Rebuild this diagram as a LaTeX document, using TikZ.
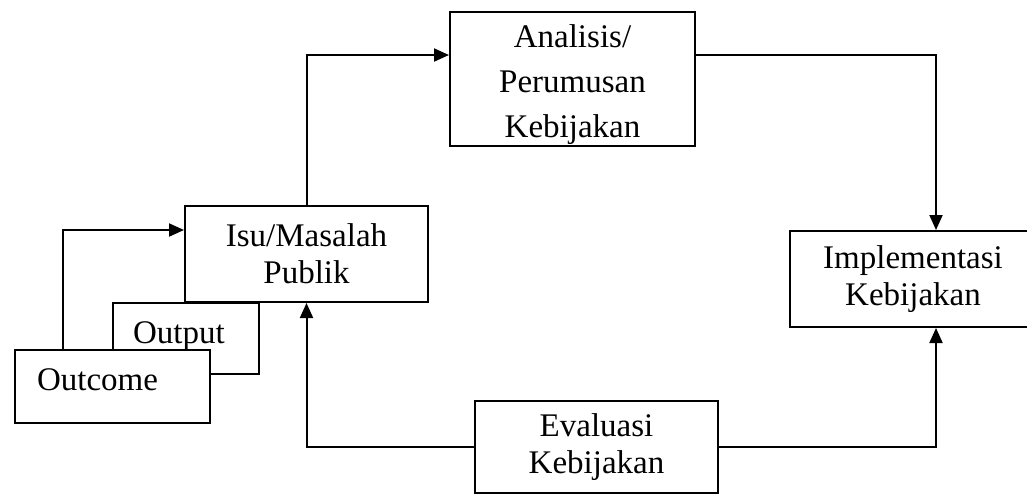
\documentclass[tikz,border=0pt]{standalone}
\usepackage{fontspec}
\setmainfont{Liberation Serif}
\usetikzlibrary{arrows.meta,calc}

\tikzset{
  kotak/.style={draw, line width=1pt, fill=white, align=center, inner sep=0pt,
    font=\fontsize{16.5}{18.5}\selectfont},
  kotakkiri/.style={kotak, align=left, text height=12pt},
  panah/.style={line width=1pt, -{Triangle[length=7.5pt,width=6.5pt]}}
}

\begin{document}
\begin{tikzpicture}[x=0.5pt,y=-0.5pt]
    \useasboundingbox (0,0) rectangle (1027,495);

    % Titik bantu untuk jalur panah
    \coordinate (atas) at (0,55);
    \coordinate (kanan) at (936,0);
    \coordinate (kiri) at (63,0);
    \coordinate (masuk) at (0,230);

    % Kotak utama
    \node[kotak, minimum width=122.5pt, minimum height=67pt,
      font=\fontsize{16.5}{22.5}\selectfont] (Anal) at (572.5,79) {\rule{0pt}{17pt}Analisis/\\Perumusan\\Kebijakan};
    \node[kotak, minimum width=121.5pt, minimum height=48pt] (Isu) at (306.5,254) {Isu/Masalah\\Publik};
    \node[kotak, minimum width=123pt, minimum height=48pt] (Impl) at (913,279) {Implementasi\\Kebijakan};
    \node[kotak, line width=1.4pt, minimum width=121.5pt, minimum height=46pt] (Eval) at (596.5,447) {Evaluasi\\Kebijakan};

    % Output di belakang Outcome
    \node[kotakkiri, inner xsep=10pt, text width=53pt, text depth=7.5pt, minimum height=35.5pt] (Output) at (186,338.5) {Output};
    \node[kotakkiri, inner xsep=11pt, text width=75.5pt, text depth=8.5pt, minimum height=36.5pt] (Outcome) at (112.5,386.5) {Outcome};

    % Panah siklus
    \draw[panah] (Isu.north) |- (Anal.west |- atas);
    \draw[panah] (Anal.east |- atas) -| (kanan |- Impl.north);
    \draw[panah] (Eval.east) -| (kanan |- Impl.south);
    \draw[panah] (Eval.west) -| (Isu.south);
    \draw[panah] (kiri |- Outcome.north) |- (Isu.west |- masuk);
\end{tikzpicture}
\end{document}
